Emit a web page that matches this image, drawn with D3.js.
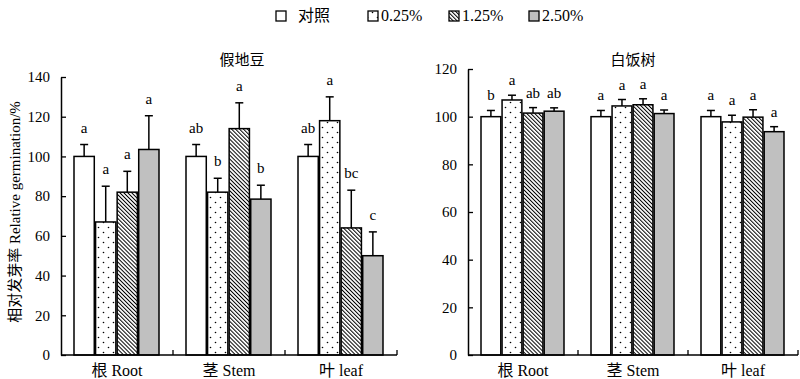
<!DOCTYPE html>
<html lang="en">
<head>
  <meta charset="UTF-8">
  <title>Relative germination</title>
  <style>
    body { margin: 0; background: #fff; }
    svg text { font-family: "Liberation Serif", "Noto Sans CJK SC", serif; fill: #000; }
  </style>
</head>
<body>
<script src="https://d3js.org/d3.v7.min.js"></script>
<script>
  // data
  const categories = ["根 Root", "茎 Stem", "叶 leaf"];
  const treatments = ["对照", "0.25%", "1.25%", "2.50%"];

  // 假地豆: mean per treatment, per category
  const jdMeans = [[100, 67, 82, 103.5], [100, 82, 114, 78.5], [100, 118, 64, 50]];
  const jdErrTop = [[106, 85, 92.5, 120.5], [106, 89, 127, 85.5], [106, 130, 83, 62]];
  const jdLetters = [["a", "a", "a", "a"], ["ab", "b", "a", "b"], ["ab", "a", "bc", "c"]];
  const jdTicks = [0, 20, 40, 60, 80, 100, 120, 140];

  // 白饭树
  const bfMeans = [[100, 107, 101.5, 102.3], [100, 104.5, 105, 101.3], [100, 97.8, 99.8, 93.7]];
  const bfErrTop = [[102.6, 109, 103.8, 103.7], [102.6, 107.2, 107.5, 102.8], [102.6, 100.6, 102.9, 95.8]];
  const bfLetters = [["b", "a", "ab", "ab"], ["a", "a", "a", "a"], ["a", "a", "a", "a"]];
  const bfTicks = [0, 20, 40, 60, 80, 100, 120];

  const svg = d3.select("body").append("svg")
    .attr("width", 800)
    .attr("height", 379);

  // fill patterns
  const defs = svg.append("defs");
  const dots = defs.append("pattern")
    .attr("id", "dots")
    .attr("patternUnits", "userSpaceOnUse")
    .attr("width", 10).attr("height", 10);
  dots.append("rect").attr("width", 10).attr("height", 10).attr("fill", "#fff");
  dots.append("circle").attr("cx", 2.5).attr("cy", 2.5).attr("r", 0.8).attr("fill", "#000");
  dots.append("circle").attr("cx", 7.5).attr("cy", 7.5).attr("r", 0.8).attr("fill", "#000");

  const hatch = defs.append("pattern")
    .attr("id", "hatch")
    .attr("patternUnits", "userSpaceOnUse")
    .attr("width", 2.8).attr("height", 2.8)
    .attr("patternTransform", "rotate(-45)");
  hatch.append("rect").attr("width", 2.8).attr("height", 2.8).attr("fill", "#fff");
  hatch.append("line").attr("x1", 0.5).attr("y1", 0).attr("x2", 0.5).attr("y2", 2.8)
    .attr("stroke", "#000").attr("stroke-width", 1);

  const fills = ["#fff", "url(#dots)", "url(#hatch)", "#c0c0c0"];

  function drawPanel(opt) {
    const g = svg.append("g");
    const x0 = d3.scaleBand().domain(categories).range([opt.left, opt.right]);
    const x1 = d3.scaleBand().domain(treatments)
      .range([13, x0.bandwidth() - 14]).paddingInner(0.06);
    const y = d3.scaleLinear().domain([0, opt.max]).range([355, opt.top]);

    // y axis
    const yAxis = g.append("g")
      .attr("transform", `translate(${opt.left},0)`)
      .call(d3.axisLeft(y).tickValues(opt.ticks).tickSizeInner(-5).tickSizeOuter(0).tickPadding(11));
    yAxis.select(".domain").attr("stroke-width", 1.5);
    yAxis.selectAll(".tick line").attr("stroke-width", 1.3);
    yAxis.selectAll("text").style("font-size", "15px");

    // bars
    const groups = g.selectAll(".grp").data(categories).join("g")
      .attr("transform", d => `translate(${x0(d)},0)`);

    groups.each(function (cat, ci) {
      const grp = d3.select(this);
      const rows = treatments.map((t, ti) => ({
        t, ti, v: opt.means[ci][ti], e: opt.err[ci][ti], l: opt.letters[ci][ti]
      }));
      const cx = d => x1(d.t) + x1.bandwidth() / 2;
      grp.selectAll("line.err").data(rows).join("line")
        .attr("x1", cx).attr("x2", cx)
        .attr("y1", d => y(d.v))
        .attr("y2", d => y(d.e))
        .attr("stroke", "#000").attr("stroke-width", 1.5);
      grp.selectAll("line.cap").data(rows).join("line")
        .attr("x1", d => cx(d) - 4)
        .attr("x2", d => cx(d) + 4)
        .attr("y1", d => y(d.e))
        .attr("y2", d => y(d.e))
        .attr("stroke", "#000").attr("stroke-width", 1.5);
      grp.selectAll("rect").data(rows).join("rect")
        .attr("x", d => x1(d.t))
        .attr("y", d => y(d.v))
        .attr("width", x1.bandwidth())
        .attr("height", d => y(0) - y(d.v))
        .attr("fill", d => fills[d.ti])
        .attr("stroke", "#000").attr("stroke-width", 1.5);
      grp.selectAll("text").data(rows).join("text")
        .attr("x", cx)
        .attr("y", d => y(d.e) - opt.letterGap)
        .attr("text-anchor", "middle")
        .style("font-size", "15px")
        .text(d => d.l);
    });

    // x axis with upward ticks between groups
    const xAxis = g.append("g").attr("transform", "translate(0,355)");
    xAxis.append("line")
      .attr("x1", opt.left).attr("x2", opt.right)
      .attr("stroke", "#000").attr("stroke-width", 1.5);
    xAxis.selectAll("line.tk").data(categories.slice(1).map(c => x0(c)).concat([opt.right]))
      .join("line")
      .attr("x1", d => d).attr("x2", d => d)
      .attr("y1", 0).attr("y2", -5)
      .attr("stroke", "#000").attr("stroke-width", 1.3);
    xAxis.selectAll("text").data(categories).join("text")
      .attr("x", d => x0(d) + x0.bandwidth() / 2)
      .attr("y", 21)
      .attr("text-anchor", "middle")
      .style("font-size", "16px")
      .text(d => d);

    g.append("text")
      .attr("x", opt.titleX)
      .attr("y", 65)
      .attr("text-anchor", "middle")
      .style("font-size", "15px")
      .text(opt.title);
  }

  drawPanel({
    left: 61, right: 397, top: 77, max: 140, ticks: jdTicks,
    means: jdMeans, err: jdErrTop, letters: jdLetters, letterGap: 12,
    title: "假地豆", titleX: 242
  });
  drawPanel({
    left: 468, right: 798, top: 69, max: 120, ticks: bfTicks,
    means: bfMeans, err: bfErrTop, letters: bfLetters, letterGap: 10,
    title: "白饭树", titleX: 633
  });

  // y label
  svg.append("text")
    .attr("transform", "translate(20,212) rotate(-90)")
    .attr("text-anchor", "middle")
    .style("font-size", "15px")
    .text("相对发芽率 Relative germination/%");

  // legend
  const legendX = [276, 368, 449, 529];
  const legendGap = [12, 3, 3, 3];
  const legend = svg.append("g");
  treatments.forEach((t, i) => {
    legend.append("rect")
      .attr("x", legendX[i]).attr("y", 11)
      .attr("width", 10).attr("height", 10)
      .attr("fill", fills[i])
      .attr("stroke", "#000").attr("stroke-width", 1.3);
    legend.append("text")
      .attr("x", legendX[i] + 10 + legendGap[i])
      .attr("y", 21)
      .style("font-size", "16px")
      .text(t);
  });
</script>
</body>
</html>
